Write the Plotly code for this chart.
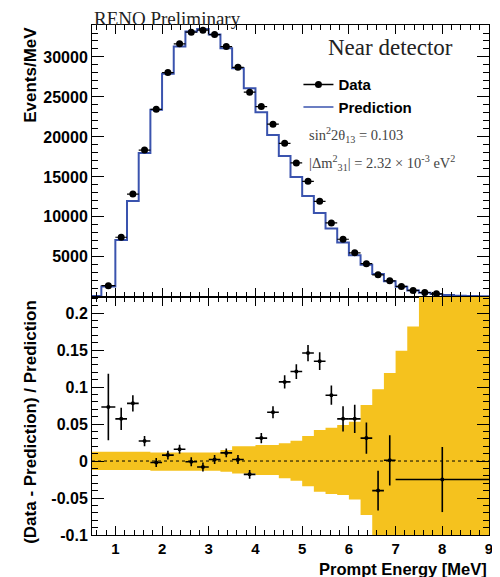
import plotly.graph_objects as go
from plotly.subplots import make_subplots

# bin edges of the spectrum (MeV)
edges = [0.5, 0.7, 1.0, 1.25, 1.5, 1.75, 2.0, 2.25, 2.5, 2.75, 3.0, 3.25, 3.5, 3.75,
         4.0, 4.25, 4.5, 4.75, 5.0, 5.25, 5.5, 5.75, 6.0, 6.25, 6.5, 6.75, 7.0,
         7.25, 7.5, 7.75, 8.0, 8.25, 8.5, 8.75, 9.0]

# prediction per bin (Events/MeV)
pred = [100, 1300, 7100, 12000, 18000, 23400, 27900, 31300, 33200, 33500, 32800,
        31100, 28600, 26100, 23100, 20250, 17600, 15000, 12600, 10500, 8550, 6800,
        5200, 4000, 2870, 1950, 1250, 800, 520, 340, 220, 150, 100, 70]

# near detector data
data_x = [0.85, 1.125, 1.375, 1.625, 1.875, 2.125, 2.375, 2.625, 2.875, 3.125, 3.375,
          3.625, 3.875, 4.125, 4.375, 4.625, 4.875, 5.125, 5.375, 5.625, 5.875, 6.125,
          6.375, 6.625, 6.875, 7.125, 7.375, 7.625, 7.875]
data_y = [1400, 7450, 12850, 18350, 23450, 28050, 31650, 33100, 33350, 32800, 31300,
          28700, 25600, 23800, 21600, 19200, 16750, 14450, 11950, 9250, 7200, 5500,
          4150, 2750, 2000, 1300, 800, 540, 380]
data_xerr = [0.15] + [0.125] * 28

# (data - prediction) / prediction
ratio_x = [0.85, 1.125, 1.375, 1.625, 1.875, 2.125, 2.375, 2.625, 2.875, 3.125, 3.375,
           3.625, 3.875, 4.125, 4.375, 4.625, 4.875, 5.125, 5.375, 5.625, 5.875, 6.125,
           6.375, 6.625, 6.875, 8.0]
ratio_y = [0.073, 0.057, 0.078, 0.027, -0.002, 0.008, 0.016, -0.001, -0.008, 0.002, 0.011,
           0.002, -0.018, 0.031, 0.066, 0.107, 0.121, 0.146, 0.135, 0.089, 0.057, 0.057,
           0.031, -0.040, 0.001, -0.025]
ratio_yerr = [0.045, 0.015, 0.011, 0.007, 0.006, 0.006, 0.006, 0.006, 0.006, 0.006, 0.006,
              0.006, 0.006, 0.007, 0.008, 0.009, 0.010, 0.011, 0.012, 0.013, 0.017, 0.019,
              0.021, 0.027, 0.034, 0.044]
ratio_xerr = [0.15] + [0.125] * 24 + [1.0]

# systematic band
band_edges = [0.5, 1.0, 1.25, 1.5, 1.75, 2.0, 2.25, 2.5, 2.75, 3.0, 3.25, 3.5, 3.75,
              4.0, 4.25, 4.5, 4.75, 5.0, 5.25, 5.5, 5.75, 6.0, 6.25, 6.5, 6.75, 7.0,
              7.25, 7.5, 7.75, 8.0, 8.25, 8.5, 8.75, 9.0]
band_up = [0.0126, 0.0126, 0.0126, 0.0126, 0.0117, 0.0117, 0.0117, 0.0117, 0.0117, 0.0117,
           0.015, 0.020, 0.020, 0.0216, 0.0216, 0.024, 0.0275, 0.034, 0.042, 0.045, 0.0486,
           0.053, 0.0757, 0.097, 0.119, 0.149, 0.182, 0.3, 0.3, 0.3, 0.3, 0.3, 0.3]
band_lo = [-0.0122, -0.0122, -0.0122, -0.0122, -0.013, -0.013, -0.013, -0.013, -0.013, -0.013,
           -0.0144, -0.0167, -0.0167, -0.019, -0.019, -0.0234, -0.0266, -0.034, -0.0414,
           -0.0446, -0.046, -0.052, -0.073, -0.3, -0.3, -0.3, -0.3, -0.3, -0.3, -0.3, -0.3,
           -0.3, -0.3]

y_top_ticks = [5000, 10000, 15000, 20000, 25000, 30000]
y_bot_ticks = [-0.1, -0.05, 0, 0.05, 0.1, 0.15, 0.2]

BLUE = '#3A53AE'
GOLD = '#F5C21E'
SANS = 'Liberation Sans, Arial, sans-serif'
SERIF = 'Liberation Serif, Times New Roman, serif'

fig = make_subplots(rows=2, cols=1, shared_xaxes=True, vertical_spacing=0,
                    row_heights=[0.533, 0.467])

# top: prediction histogram + data
fig.add_trace(go.Scatter(x=edges, y=pred + [pred[-1]], mode='lines', line_shape='hv',
                         line=dict(color=BLUE, width=2), showlegend=False), row=1, col=1)
fig.add_trace(go.Scatter(x=data_x, y=data_y, mode='markers',
                         marker=dict(color='black', size=7),
                         error_x=dict(type='data', array=data_xerr, color='black', thickness=1.2, width=0),
                         showlegend=False), row=1, col=1)

# legend-only entries
fig.add_trace(go.Scatter(x=[None], y=[None], mode='lines+markers', name='Data', legendrank=1,
                         line=dict(color='black', width=1.5), marker=dict(color='black', size=7)),
              row=1, col=1)
fig.add_trace(go.Scatter(x=[None], y=[None], mode='lines', name='Prediction', legendrank=2,
                         line=dict(color=BLUE, width=1.5)), row=1, col=1)

# bottom: band + ratio
fig.add_trace(go.Scatter(x=band_edges, y=band_lo + [band_lo[-1]], mode='lines', line_shape='hv',
                         line=dict(width=0, color=GOLD), showlegend=False), row=2, col=1)
fig.add_trace(go.Scatter(x=band_edges, y=band_up + [band_up[-1]], mode='lines', line_shape='hv',
                         line=dict(width=0, color=GOLD), fill='tonexty', fillcolor=GOLD,
                         showlegend=False), row=2, col=1)
fig.add_trace(go.Scatter(x=[0.5, 9.0], y=[0, 0], mode='lines',
                         line=dict(color='black', width=1, dash='dot'), showlegend=False),
              row=2, col=1)
fig.add_trace(go.Scatter(x=ratio_x, y=ratio_y, mode='markers',
                         marker=dict(color='black', size=4),
                         error_x=dict(type='data', array=ratio_xerr, color='black', thickness=1.6, width=0),
                         error_y=dict(type='data', array=ratio_yerr, color='black', thickness=1.6, width=0),
                         showlegend=False), row=2, col=1)

tickfont = dict(family=SANS, size=16, color='black', weight='bold')
axis_common = dict(showline=True, linecolor='black', linewidth=1, mirror='ticks',
                   ticks='inside', tickcolor='black', showgrid=False, zeroline=False)

fig.update_xaxes(range=[0.5, 9.0], dtick=1, ticklen=9, tickfont=tickfont,
                 minor=dict(ticks='inside', dtick=0.2, ticklen=5, tickcolor='black'),
                 **axis_common)
fig.update_xaxes(showticklabels=False, row=1, col=1)
fig.update_xaxes(tickvals=[1, 2, 3, 4, 5, 6, 7, 8, 9], tickfont=dict(size=15), row=2, col=1)

fig.update_yaxes(range=[0, 34000], tickvals=y_top_ticks, ticktext=[str(v) for v in y_top_ticks],
                 ticklen=12, tickfont=tickfont,
                 minor=dict(ticks='inside', dtick=1000, ticklen=6, tickcolor='black'),
                 row=1, col=1, **axis_common)
fig.update_yaxes(range=[-0.1, 0.222], tickvals=y_bot_ticks,
                 ticktext=['-0.1', '-0.05', '0', '0.05', '0.1', '0.15', '0.2'],
                 ticklen=12, tickfont=tickfont,
                 minor=dict(ticks='inside', dtick=0.01, ticklen=6, tickcolor='black'),
                 row=2, col=1, **axis_common)

fig.add_annotation(text='RENO Preliminary', xref='paper', yref='paper', x=0, y=1.013,
                   xanchor='left', yanchor='middle', showarrow=False,
                   font=dict(family=SERIF, size=19, color='#222222'))
fig.add_annotation(text='Near detector', xref='paper', yref='paper', x=0.753, y=0.955,
                   xanchor='center', yanchor='middle', showarrow=False,
                   font=dict(family=SERIF, size=23, color='#222222'))
fig.add_annotation(text='sin<sup>2</sup>2θ<sub>13</sub> = 0.103', xref='paper', yref='paper',
                   x=0.542, y=0.784, xanchor='left', yanchor='middle', showarrow=False,
                   font=dict(family=SERIF, size=14.5, color='#444444'))
fig.add_annotation(text='|Δm<sup>2</sup><sub>31</sub>| = 2.32 × 10<sup>-3</sup> eV<sup>2</sup>',
                   xref='paper', yref='paper', x=0.542, y=0.729, xanchor='left', yanchor='middle',
                   showarrow=False, font=dict(family=SERIF, size=14.5, color='#444444'))
fig.add_annotation(text='Events/MeV', xref='paper', yref='paper', x=-0.154, y=0.902,
                   textangle=-90, xanchor='center', yanchor='middle', showarrow=False,
                   font=dict(family=SANS, size=17, color='black', weight='bold'))
fig.add_annotation(text='(Data - Prediction) / Prediction', xref='paper', yref='paper',
                   x=-0.154, y=0.2216, textangle=-90, xanchor='center', yanchor='middle',
                   showarrow=False, font=dict(family=SANS, size=17, color='black', weight='bold'))
fig.add_annotation(text='Prompt Energy [MeV]', xref='paper', yref='paper', x=1.0, y=-0.066,
                   xanchor='right', yanchor='middle', showarrow=False,
                   font=dict(family=SANS, size=16.5, color='black', weight='bold'))

# page body adds an 8px offset, so margins are shifted left/up by 8px
fig.update_layout(width=500, height=577, margin=dict(l=84, r=19, t=17, b=50),
                  plot_bgcolor='white', paper_bgcolor='white',
                  legend=dict(x=0.52, y=0.915, xanchor='left', yanchor='top',
                              bgcolor='rgba(0,0,0,0)', itemwidth=30, traceorder='normal',
                              font=dict(family=SANS, size=15, color='black', weight='bold'),
                              tracegroupgap=0))

fig.write_html("out.html")
